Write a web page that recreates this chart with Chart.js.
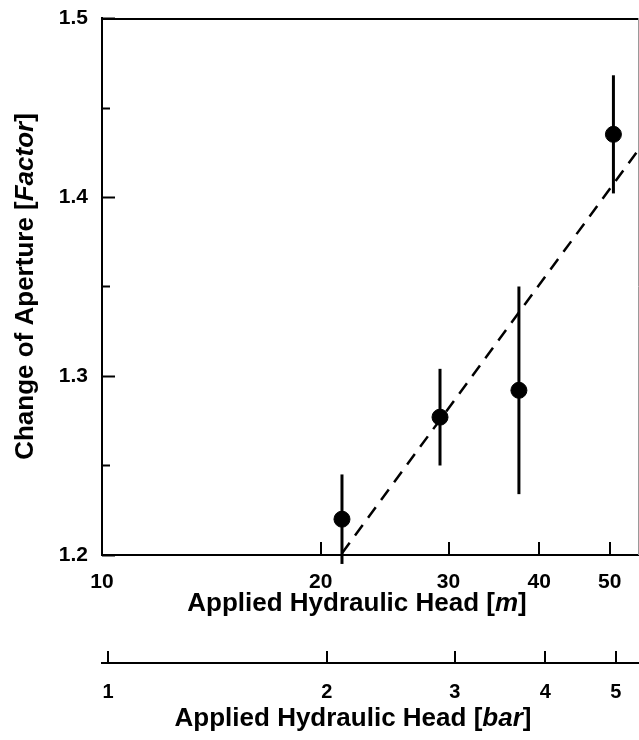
<!DOCTYPE html>
<html>
<head>
<meta charset="utf-8">
<script src="https://cdn.jsdelivr.net/npm/chart.js@4/dist/chart.umd.min.js"></script>
<style>
  body { margin: 0; background: #fff; }
  canvas { display: block; }
</style>
</head>
<body>
<canvas id="chart" width="639" height="740"></canvas>
<script>
// measured points (head in m, aperture factor, error half-width)
const headM = [21.4, 29.2, 37.5, 50.6];
const apertureFactor = [1.220, 1.277, 1.292, 1.435];
const apertureError = [0.025, 0.027, 0.058, 0.033];

// dashed fit line
const fitHeadM = [21.4, 54.7];
const fitFactor = [1.201, 1.426];

// axes
const headMinM = 10;
const headMaxM = 54.7;
const metersPerBar = 10.197;
const headTicksM = [10, 20, 30, 40, 50];
const headTicksBar = [1, 2, 3, 4, 5];
const factorTicks = [1.2, 1.25, 1.3, 1.35, 1.4, 1.45, 1.5];
const factorLabels = ["1.2", "", "1.3", "", "1.4", "", "1.5"];

const FONT = '"Liberation Sans", Arial, sans-serif';

// draws "text [italic]" style titles centred on cx
function drawRichText(ctx, parts, cx, baseY) {
  let total = 0;
  parts.forEach((p) => {
    ctx.font = (p.italic ? "italic " : "") + "bold 26px " + FONT;
    p.w = ctx.measureText(p.text).width;
    total += p.w;
  });
  let x = cx - total / 2;
  ctx.textAlign = "left";
  ctx.textBaseline = "alphabetic";
  parts.forEach((p) => {
    ctx.font = (p.italic ? "italic " : "") + "bold 26px " + FONT;
    ctx.fillText(p.text, x, baseY);
    x += p.w;
  });
}

function line(ctx, x1, y1, x2, y2) {
  ctx.beginPath();
  ctx.moveTo(x1, y1);
  ctx.lineTo(x2, y2);
  ctx.stroke();
}

// Error bars under the points
const errorBars = {
  id: "errorBars",
  beforeDatasetsDraw(chart) {
    const ctx = chart.ctx;
    const x = chart.scales.x;
    const y = chart.scales.y;
    ctx.save();
    ctx.strokeStyle = "#000";
    ctx.lineWidth = 3;
    headM.forEach((h, i) => {
      const px = x.getPixelForValue(h);
      line(ctx, px, y.getPixelForValue(apertureFactor[i] - apertureError[i]),
        px, y.getPixelForValue(apertureFactor[i] + apertureError[i]));
    });
    ctx.restore();
  },
};

// Frame, inward ticks and titles
const frameAndTitles = {
  id: "frameAndTitles",
  afterDraw(chart) {
    const ctx = chart.ctx;
    const area = chart.chartArea;
    const x = chart.scales.x;
    const x2 = chart.scales.x2;
    const y = chart.scales.y;
    ctx.save();
    ctx.strokeStyle = "#000";
    ctx.lineWidth = 2;
    line(ctx, area.left, area.top + 1, area.right, area.top + 1);

    factorTicks.forEach((v, i) => {
      const py = Math.round(y.getPixelForValue(v)) + 0.5;
      line(ctx, area.left, py, area.left + (factorLabels[i] ? 13 : 8), py);
    });
    headTicksM.forEach((v) => {
      const px = Math.round(x.getPixelForValue(v));
      line(ctx, px, area.bottom, px, area.bottom - 13);
    });
    headTicksBar.forEach((v) => {
      const px = Math.round(x2.getPixelForValue(v));
      line(ctx, px, x2.top, px, x2.top - 12);
    });

    ctx.strokeStyle = "#9a9a9a";
    ctx.lineWidth = 1;
    line(ctx, area.right + 0.5, area.top, area.right + 0.5, area.bottom);

    ctx.fillStyle = "#000";
    drawRichText(ctx, [{ text: "Applied Hydraulic Head [" }, { text: "m", italic: true }, { text: "]" }], 357, 611);
    drawRichText(ctx, [{ text: "Applied Hydraulic Head [" }, { text: "bar", italic: true }, { text: "]" }], 353, 726);

    ctx.translate(33, (area.top + area.bottom) / 2);
    ctx.rotate(-Math.PI / 2);
    drawRichText(ctx, [{ text: "Change of Aperture [" }, { text: "Factor", italic: true }, { text: "]" }], 0, 0);
    ctx.restore();
  },
};

const tickFont = { family: FONT, size: 21, weight: "bold" };

new Chart(document.getElementById("chart"), {
  type: "scatter",
  data: {
    datasets: [
      {
        label: "Measured",
        data: headM.map((h, i) => ({ x: h, y: apertureFactor[i] })),
        backgroundColor: "#000",
        borderColor: "#000",
        pointRadius: 8,
        pointHoverRadius: 8,
        showLine: false,
      },
      {
        label: "Fit",
        data: fitHeadM.map((h, i) => ({ x: h, y: fitFactor[i] })),
        borderColor: "#000",
        borderWidth: 2.5,
        borderDash: [13, 9],
        pointRadius: 0,
        showLine: true,
        fill: false,
      },
    ],
  },
  options: {
    responsive: false,
    animation: false,
    devicePixelRatio: 1,
    layout: { autoPadding: false, padding: { top: 18, right: 1, left: 0, bottom: 0 } },
    plugins: {
      legend: { display: false },
      tooltip: { enabled: false },
    },
    scales: {
      x: {
        type: "logarithmic",
        position: "bottom",
        weight: 0,
        min: headMinM,
        max: headMaxM,
        bounds: "data",
        afterBuildTicks: (s) => {
          s.ticks = headTicksM.map((v) => ({ value: v }));
        },
        afterFit: (s) => {
          s.height = 108;
        },
        ticks: {
          autoSkip: false,
          maxRotation: 0,
          color: "#000",
          font: tickFont,
          padding: 15,
          callback: (v) => String(v),
        },
        grid: { drawOnChartArea: false, drawTicks: false },
        border: { color: "#000", width: 2 },
      },
      x2: {
        type: "logarithmic",
        position: "bottom",
        weight: 1,
        min: headMinM / metersPerBar,
        max: headMaxM / metersPerBar,
        bounds: "data",
        afterBuildTicks: (s) => {
          s.ticks = headTicksBar.map((v) => ({ value: v }));
        },
        afterFit: (s) => {
          s.height = 77;
        },
        ticks: {
          autoSkip: false,
          maxRotation: 0,
          color: "#000",
          font: { family: FONT, size: 20, weight: "bold" },
          padding: 17,
          callback: (v) => String(v),
        },
        grid: { drawOnChartArea: false, drawTicks: false },
        border: { color: "#000", width: 2 },
      },
      y: {
        type: "linear",
        min: 1.2,
        max: 1.5,
        afterBuildTicks: (s) => {
          s.ticks = factorTicks.map((v) => ({ value: v }));
        },
        afterFit: (s) => {
          s.width = 102;
          s.paddingTop = 0;
          s.paddingBottom = 0;
        },
        ticks: {
          autoSkip: false,
          color: "#000",
          font: tickFont,
          padding: 14,
          callback: (v, i) => factorLabels[i],
        },
        grid: { drawOnChartArea: false, drawTicks: false },
        border: { color: "#000", width: 2 },
      },
    },
  },
  plugins: [errorBars, frameAndTitles],
});
</script>
</body>
</html>
